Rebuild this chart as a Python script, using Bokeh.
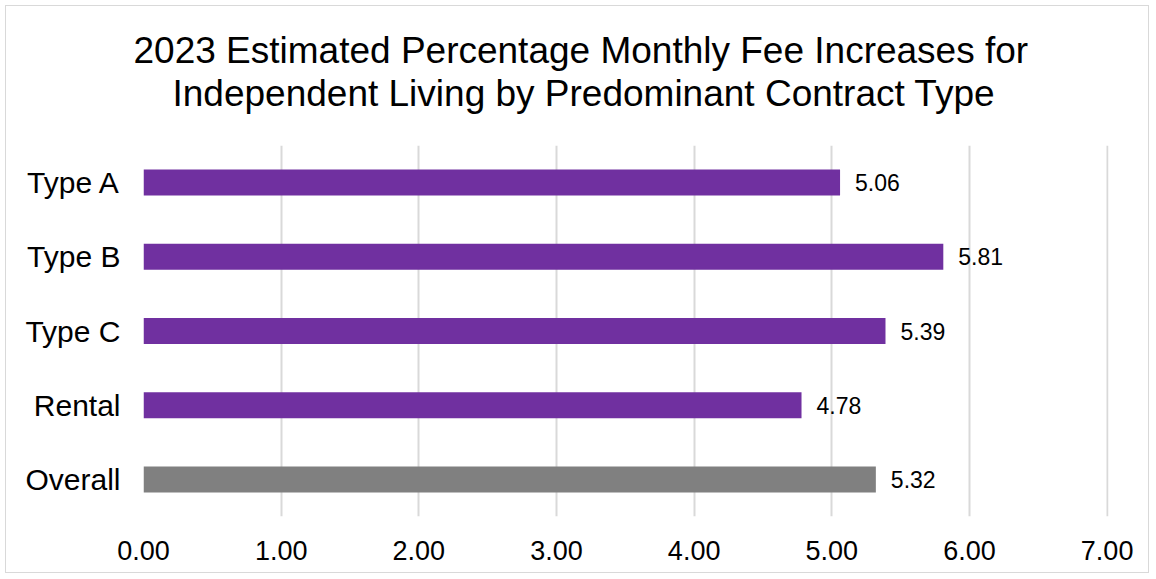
from bokeh.plotting import figure
from bokeh.models import (ColumnDataSource, FixedTicker, NumeralTickFormatter, Range1d,
                          LabelSet, Title, LinearAxis)
from bokeh.core.properties import value
from bokeh.embed import file_html
from bokeh.resources import INLINE

categories = ["Type A", "Type B", "Type C", "Rental", "Overall"]
values = [5.06, 5.81, 5.39, 4.78, 5.32]
colors = ["#7030A0", "#7030A0", "#7030A0", "#7030A0", "#808080"]
labels = ["5.06", "5.81", "5.39", "4.78", "5.32"]
x_ticks = [0, 1, 2, 3, 4, 5, 6, 7]
title_lines = ["2023 Estimated Percentage Monthly Fee Increases for",
               "Independent Living by Predominant Contract Type"]

FONT = "Liberation Sans"

src = ColumnDataSource(dict(cat=categories, val=values, color=colors, lab=labels))

p = figure(width=1144, height=568, y_range=list(reversed(categories)),
           x_range=Range1d(0, 7.01), output_backend="svg", toolbar_location=None,
           min_border_left=137, min_border_right=42, min_border_top=139, min_border_bottom=58,
           styles={"border": "1px solid #d9d9d9", "margin": "5px 0px 0px 5px"})
p.outline_line_color = None
p.background_fill_color = "white"
p.border_fill_color = "white"

# bottom (value) axis and left (category) axis
xax = p.below[0]
yax = p.left[0]
xax.ticker = FixedTicker(ticks=x_ticks)
xax.formatter = NumeralTickFormatter(format="0.00")
for ax in (xax, yax):
    ax.axis_line_color = None
    ax.major_tick_line_color = None
    ax.minor_tick_line_color = None
    ax.major_tick_out = 0
    ax.major_tick_in = 0
    ax.minor_tick_out = 0
    ax.minor_tick_in = 0
    ax.major_label_text_font = FONT
    ax.major_label_text_color = "black"
xax.major_label_text_font_size = "27px"
yax.major_label_text_font_size = "30px"
xax.major_label_standoff = 24
yax.major_label_standoff = 23

# first title line (outermost)
p.title.text = title_lines[0]
p.title.align = "left"
p.title.offset = -10
p.title.text_font = FONT
p.title.text_font_size = "37px"
p.title.text_font_style = "normal"
p.title.text_color = "black"
p.title.standoff = 0

# invisible spacer between plot area and the title block (one hidden tick, blank label)
spacer = LinearAxis(ticker=FixedTicker(ticks=[3.5]), major_label_overrides={3.5: ""},
                    axis_line_color=None, major_tick_line_color=None,
                    minor_tick_line_color=None, major_tick_out=32, major_tick_in=0,
                    minor_tick_out=0, minor_tick_in=0, major_label_standoff=0,
                    major_label_text_font_size="1px")
title2 = Title(text=title_lines[1], align="left", offset=29, text_font=FONT,
               text_font_size="37px", text_font_style="normal", text_color="black",
               standoff=0)
p.above = [spacer, title2]

p.hbar(y="cat", right="val", left=0, height=0.35, color="color", source=src, line_color=None)

p.add_layout(LabelSet(x="val", y="cat", text="lab", source=src, x_offset=15,
                      text_baseline="middle", text_font=value(FONT),
                      text_font_size="23px", text_color="black"))

p.xgrid.grid_line_color = "#d9d9d9"
p.xgrid.grid_line_width = 2
p.ygrid.grid_line_color = None

open("out.html", "w").write(file_html(p, INLINE))
